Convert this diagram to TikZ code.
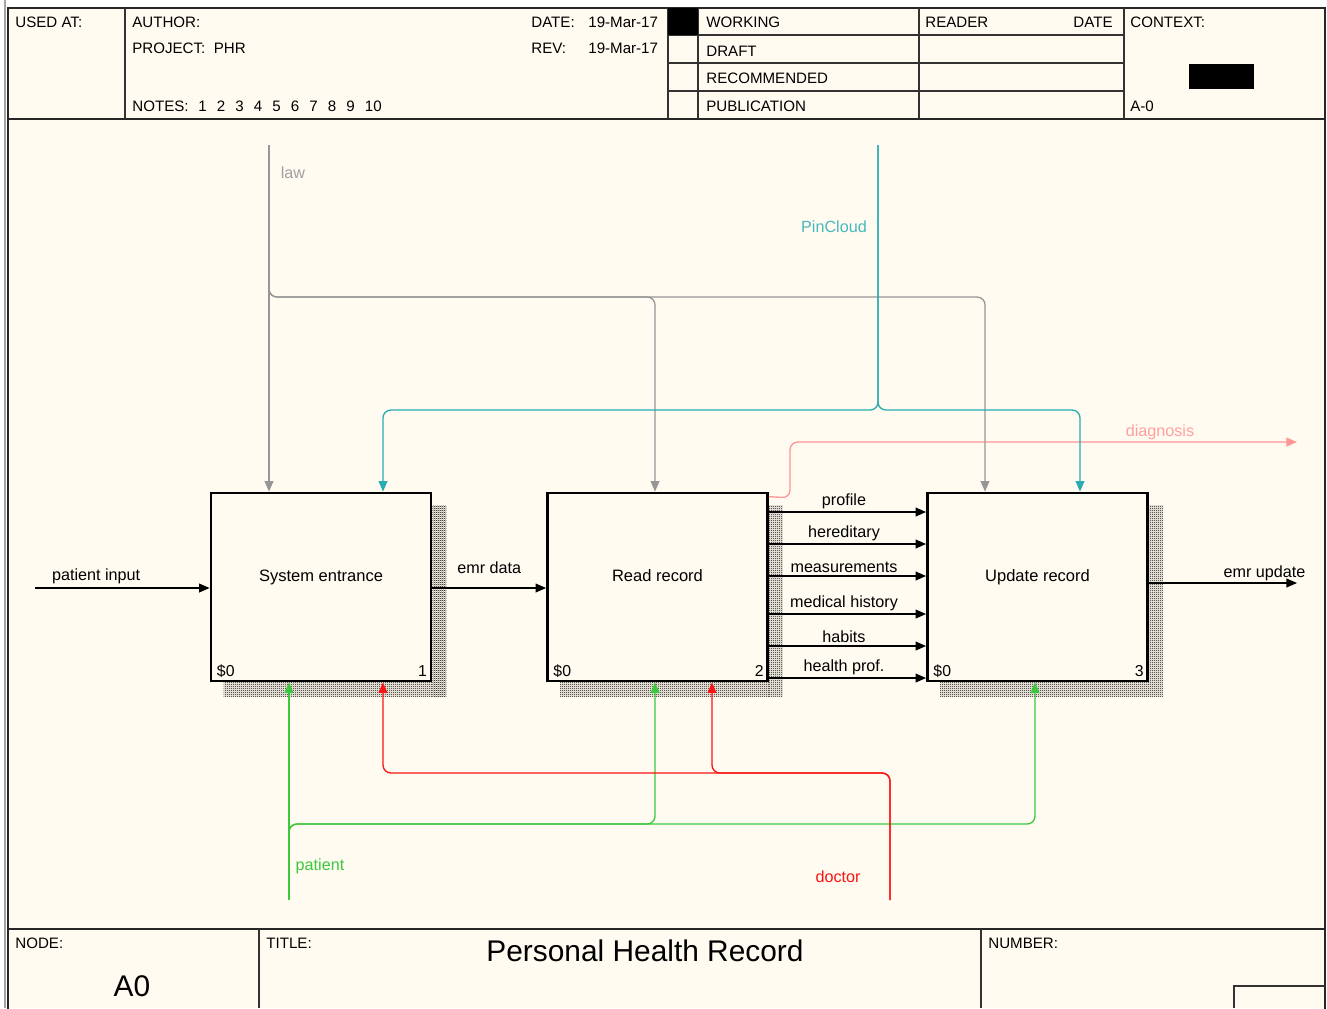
\documentclass[tikz,border=0pt]{standalone}
\usepackage{fontspec}
\setmainfont{Liberation Sans}
\usepackage{xcolor}
\usetikzlibrary{positioning, arrows.meta, calc, patterns}

\definecolor{paper}{RGB}{255,251,240}
\definecolor{lawgray}{RGB}{150,150,150}
\definecolor{cloudteal}{RGB}{40,172,178}
\definecolor{patgreen}{RGB}{60,200,60}
\definecolor{docred}{RGB}{250,20,20}
\definecolor{diagpink}{RGB}{255,150,150}

\pgfdeclarepatternformonly{idefshade}{\pgfqpoint{0pt}{0pt}}{\pgfqpoint{1.2pt}{1.2pt}}{\pgfqpoint{1.2pt}{1.2pt}}{%
  \pgfpathrectangle{\pgfqpoint{0pt}{0pt}}{\pgfqpoint{0.6pt}{0.6pt}}%
  \pgfpathrectangle{\pgfqpoint{0.6pt}{0.6pt}}{\pgfqpoint{0.6pt}{0.6pt}}%
  \pgfusepath{fill}}

\begin{document}
\begin{tikzpicture}[x=0.02cm, y=-0.02cm]

\tikzset{
    frameline/.style={line width=1.1pt, black!85},
    cellline/.style={line width=0.8pt, black!80},
    hdr/.style={font=\fontsize{8.6}{10}\selectfont, inner sep=0pt, anchor=base west},
    actbox/.style={draw, line width=1.6pt, fill=paper, minimum width=4.4cm,
        minimum height=3.76cm, font=\fontsize{9.4}{11}\selectfont, inner sep=0pt,
        text height=7pt, text depth=13pt},
    corner/.style={font=\fontsize{9}{11}\selectfont, inner sep=0pt},
    flow/.style={line width=0.75pt, -{Triangle[length=6pt, width=5pt]}},
    link/.style={line width=0.75pt, rounded corners=4.5pt},
    lbl/.style={font=\fontsize{9.2}{11}\selectfont, inner sep=1pt},
    boxshadow/.style={pattern=idefshade, pattern color=black}
}

\useasboundingbox (0,0) rectangle (1327,1008);
\fill[white] (0,0) rectangle (1327,1008);
\fill[paper] (8,8) rectangle (1325,1008);
\draw[line width=1.2pt, black!35] (5,0) -- (5,1008);

%====================================================
% FRAME AND HEADER
%====================================================
\draw[frameline] (8,8) rectangle (1325,1012);
\draw[frameline] (8,119) -- (1325,119);
\foreach \x in {125,668,698,919,1124}{
    \draw[cellline] (\x,8) -- (\x,119);
}
\foreach \y in {35,63,91}{
    \draw[cellline] (668,\y) -- (1124,\y);
}
\fill[black] (668,8) rectangle (698,35);
\fill[black] (1189,64) rectangle (1254,89);

\node[hdr] (usedat) at (15,27) {USED AT:};
\node[hdr] (author) at (132,27) {AUTHOR:};
\node[hdr] (project) at (132,53) {PROJECT:\ \ PHR};
\node[hdr] (notes) at (132,111) {NOTES:};
\foreach \n in {1,...,10}{
    \node[hdr] (note\n) at ({198+(\n-1)*18.5},111) {\n};
}
\node[hdr] (datelbl) at (531,27) {DATE:};
\node[hdr] (dateval) at (588,27) {19-Mar-17};
\node[hdr] (revlbl) at (531,53) {REV:};
\node[hdr] (revval) at (588,53) {19-Mar-17};
\node[hdr] (working) at (706,27) {WORKING};
\node[hdr] (draft) at (706,56) {DRAFT};
\node[hdr] (recomm) at (706,83) {RECOMMENDED};
\node[hdr] (public) at (706,111) {PUBLICATION};
\node[hdr] (reader) at (925,27) {READER};
\node[hdr, anchor=base east] (rdate) at (1113,27) {DATE};
\node[hdr] (context) at (1130,27) {CONTEXT:};
\node[hdr] (aminus) at (1130,111) {A-0};

%====================================================
% FOOTER
%====================================================
\draw[frameline] (8,929) -- (1325,929);
\draw[cellline] (259,929) -- (259,1008);
\draw[cellline] (981,929) -- (981,1008);
\draw[cellline] (1234,1008) -- (1234,986) -- (1325,986);

\node[hdr] (nodelbl) at (15,948) {NODE:};
\node[hdr] (titlelbl) at (266,948) {TITLE:};
\node[hdr] (numlbl) at (988,948) {NUMBER:};
\node[anchor=base, inner sep=0pt, font=\fontsize{17}{20}\selectfont] (nodeval) at (132,996) {A0};
\node[anchor=base, inner sep=0pt, font=\fontsize{17}{20}\selectfont] (title) at (645,961) {Personal Health Record};

%====================================================
% ACTIVITIES
%====================================================
\node[actbox] (sysent) at (321,587) {System entrance};
\node[actbox] (readrec) at (657.5,587) {Read record};
\node[actbox] (updrec) at (1037.5,587) {Update record};

\foreach \b/\k in {sysent/1, readrec/2, updrec/3}{
    % hatched shadow
    \fill[boxshadow] ($(\b.north east)+(0,14)$) rectangle ($(\b.south east)+(14,14)$);
    \fill[boxshadow] ($(\b.south west)+(14,0)$) rectangle ($(\b.south east)+(0,14)$);
    \node[corner, anchor=base west] (\b-s) at ($(\b.south west)+(7,-6)$) {\$0};
    \node[corner, anchor=base east] (\b-k) at ($(\b.south east)+(-5,-6)$) {\k};
}

%====================================================
% INPUTS AND OUTPUTS
%====================================================
\coordinate (patin) at (35,588);
\coordinate (emrout) at (1297,583);

\draw[flow] (patin) -- (sysent.west |- patin)
    node[lbl, pos=0.35, above=1pt] (patinlbl) {patient input};
\draw[flow] (sysent.east |- patin) -- (readrec.west |- patin)
    node[lbl, midway, above=7pt] (emrlbl) {emr data};
\draw[flow] (updrec.east |- emrout) -- (emrout)
    node[lbl, pos=0.78, above=0pt] (emroutlbl) {emr update};

\foreach \y/\t in {512/profile, 544/hereditary, 576/measurements,
                   614/medical history, 646/habits, 678/health prof.}{
    \draw[flow] (readrec.east |- 0,\y) -- (updrec.west |- 0,\y)
        node[lbl, midway, above=0.5pt, xshift=-2pt] (out\y) {\t};
}

% diagnosis
\coordinate (diagout) at (1297,442);
\draw[link, flow, diagpink] ($(readrec.north east)+(0,5)$) -- (790,498) -- (790,442) -- (diagout);
\node[lbl, text=diagpink!90] (diaglbl) at (1160,432) {diagnosis};

%====================================================
% CONTROLS
%====================================================
\coordinate (lawtop) at (269,145);
\coordinate (cloudtop) at (878,145);

\draw[flow, lawgray] (lawtop) -- (lawtop |- sysent.north);
\draw[link, flow, lawgray] (269,285) -- (269,297) -- (655,297) -- (655,0 |- readrec.north);
\draw[link, flow, lawgray] (269,285) -- (269,297) -- (985,297) -- (985,0 |- updrec.north);
\node[lbl, text=lawgray!90] (lawlbl) at (293,173) {law};

\draw[link, flow, cloudteal] (cloudtop) -- (878,410) -- (383,410) -- (383,0 |- sysent.north);
\draw[link, flow, cloudteal] (cloudtop) -- (878,410) -- (1080,410) -- (1080,0 |- updrec.north);
\node[lbl, text=cloudteal!85] (cloudlbl) at (834,227) {PinCloud};

%====================================================
% MECHANISMS
%====================================================
\coordinate (patbot) at (289,900);
\coordinate (docbot) at (890,900);

\draw[flow, patgreen] (patbot) -- (patbot |- sysent.south);
\draw[link, flow, patgreen] (289,835) -- (289,824) -- (655,824) -- (655,0 |- readrec.south);
\draw[link, flow, patgreen] (289,835) -- (289,824) -- (1035,824) -- (1035,0 |- updrec.south);
\node[lbl, text=patgreen] (patlbl) at (320,866) {patient};

\draw[link, flow, docred] (docbot) -- (890,773) -- (383,773) -- (383,0 |- sysent.south);
\draw[link, flow, docred] (docbot) -- (890,773) -- (712,773) -- (712,0 |- readrec.south);
\node[lbl, text=docred] (doclbl) at (838,877) {doctor};

\end{tikzpicture}
\end{document}
